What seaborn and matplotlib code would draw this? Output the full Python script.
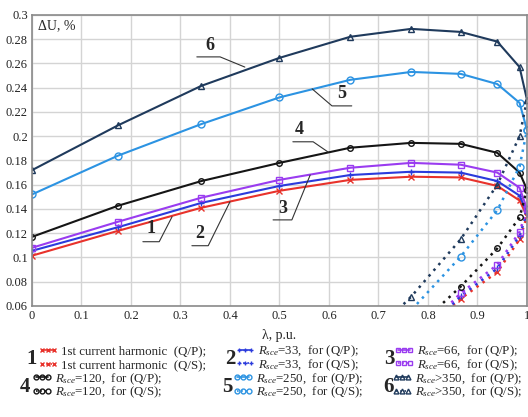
import numpy as np
import pandas as pd
import matplotlib
matplotlib.use("Agg")
import matplotlib.pyplot as plt
from matplotlib.lines import Line2D
import seaborn as sns

# lambda = cos(phi), phi = 90..0 deg
lam = [0.0, 0.174, 0.342, 0.5, 0.643, 0.766, 0.866, 0.94, 0.985, 1.0]
lam_qs = [0.643, 0.766, 0.866, 0.94, 0.985, 1.0]

# (Q/P) solid curves
du_qp_1 = [0.1015, 0.122, 0.141, 0.155, 0.164, 0.1666, 0.166, 0.159, 0.147, 0.134]
du_qp_2 = [0.1055, 0.125, 0.145, 0.159, 0.168, 0.1707, 0.170, 0.163, 0.151, 0.137]
du_qp_3 = [0.108, 0.1295, 0.1493, 0.164, 0.174, 0.178, 0.1765, 0.170, 0.1575, 0.140]
du_qp_4 = [0.117, 0.1427, 0.163, 0.178, 0.1905, 0.1945, 0.1937, 0.1863, 0.170, 0.156]
du_qp_5 = [0.152, 0.184, 0.210, 0.232, 0.2465, 0.253, 0.2514, 0.243, 0.2275, 0.205]
du_qp_6 = [0.172, 0.209, 0.2415, 0.2646, 0.282, 0.2885, 0.286, 0.278, 0.257, 0.23]

# (Q/S) dotted curves
du_qs_1 = [0.0, 0.026, 0.066, 0.088, 0.115, 0.134]
du_qs_2 = [0.0, 0.028, 0.068, 0.091, 0.118, 0.137]
du_qs_3 = [0.0, 0.030, 0.0705, 0.094, 0.121, 0.140]
du_qs_4 = [0.0, 0.038, 0.076, 0.1075, 0.133, 0.156]
du_qs_5 = [0.003, 0.0565, 0.1007, 0.139, 0.175, 0.205]
du_qs_6 = [0.018, 0.0677, 0.115, 0.16, 0.2, 0.23]

colors = ["#e8322b", "#2b3bdc", "#9a3cf0", "#151515", "#2c93e2", "#1f3a5c"]
markers = ["x", "+", "s", "o", "o", "^"]
qp = [du_qp_1, du_qp_2, du_qp_3, du_qp_4, du_qp_5, du_qp_6]
qs = [du_qs_1, du_qs_2, du_qs_3, du_qs_4, du_qs_5, du_qs_6]

legend_labels = [
    ("1st current harmonic  (Q/P);", "1st current harmonic  (Q/S);"),
    ("$R_{sce}$=33,  for (Q/P);", "$R_{sce}$=33,  for (Q/S);"),
    ("$R_{sce}$=66,  for (Q/P);", "$R_{sce}$=66,  for (Q/S);"),
    ("$R_{sce}$=120,  for (Q/P);", "$R_{sce}$=120,  for (Q/S);"),
    ("$R_{sce}$=250,  for (Q/P);", "$R_{sce}$=250,  for (Q/S);"),
    ("$R_{sce}$>350,  for (Q/P);", "$R_{sce}$>350,  for (Q/S);"),
]

sns.set_style("whitegrid")
plt.rcParams["font.family"] = ["Liberation Serif", "DejaVu Serif"]
plt.rcParams["mathtext.fontset"] = "custom"
plt.rcParams["mathtext.rm"] = "Liberation Serif"
plt.rcParams["mathtext.it"] = "Liberation Serif:italic"

fig = plt.figure(figsize=(5.28, 4.17), dpi=100)
ax = fig.add_axes([0.0606, 0.2662, 0.9375, 0.698])

for i in range(6):
    c, m = colors[i], markers[i]
    ms = 5 if m != "o" or i == 4 else 4
    sns.lineplot(x=lam, y=qp[i], ax=ax, color=c, marker=m, markersize=ms,
                 markerfacecolor="none", markeredgecolor=c, markeredgewidth=1.0,
                 linewidth=1.5, legend=False)
    sns.lineplot(x=lam_qs, y=qs[i], ax=ax, color=c, marker=m, markersize=ms,
                 markerfacecolor="none", markeredgecolor=c, markeredgewidth=1.0,
                 linewidth=1.8, linestyle=(0, (1, 2)), legend=False)

ax.set_xlim(0, 1)
ax.set_ylim(0.06, 0.3)
ax.set_xticks(np.arange(0, 1.01, 0.1))
ax.set_yticks(np.arange(0.06, 0.301, 0.02))
ax.set_xticklabels(["%g" % round(v, 2) for v in np.arange(0, 1.01, 0.1)])
ax.set_yticklabels(["%g" % round(v, 2) for v in np.arange(0.06, 0.301, 0.02)])
ax.tick_params(labelsize=9, length=0, pad=3, colors="#222222")
ax.grid(True, color="#d4d4d4", linewidth=1.0)
for s in ax.spines.values():
    s.set_color("#8a8a8a")
    s.set_linewidth(1.2)
ax.set_xlabel("")
ax.set_ylabel("")

ax.text(0.012, 0.985, "ΔU, %", transform=ax.transAxes, ha="left", va="top", fontsize=10)
fig.text(262 / 528, 1 - 335 / 417, "λ, p.u.", ha="left", va="center", fontsize=10)

# curve labels: text pos, underline, leader end
curve_tags = [
    ("1", (0.241, 0.1165), (0.224, 0.257, 0.113), (0.283, 0.1336)),
    ("2", (0.339, 0.1125), (0.323, 0.356, 0.1097), (0.40, 0.146)),
    ("3", (0.506, 0.1335), (0.487, 0.525, 0.131), (0.562, 0.168)),
    ("4", (0.540, 0.1985), (0.527, 0.568, 0.1954), (0.598, 0.187)),
    ("5", (0.626, 0.228), (0.606, 0.646, 0.225), (0.566, 0.239)),
    ("6", (0.360, 0.268), (0.333, 0.380, 0.2654), (0.43, 0.257)),
]
for tag, tp, ul, end in curve_tags:
    ax.text(tp[0], tp[1], tag, ha="center", va="bottom", fontsize=13, fontweight="bold")
    x0, x1, yu = ul
    if end[0] > x1:
        ax.plot([x0, x1, end[0]], [yu, yu, end[1]], color="#333333", lw=0.8)
    else:
        ax.plot([x1, x0, end[0]], [yu, yu, end[1]], color="#333333", lw=0.8)

# legend groups: one single-entry legend per row
group_x = [38, 235, 394, 32, 233, 392]
group_rows = [(351.5, 365), (351.5, 365), (351.5, 365),
              (379, 392.5), (379, 392.5), (379, 392.5)]
num_pos = [(32, 359), (230, 359), (389, 359), (25, 387), (227, 387), (389, 387)]
for i in range(6):
    c, m = colors[i], markers[i]
    styles = ["-", (0, (1, 1.5))]
    for k in range(2):
        h = Line2D([], [], color=c, marker=m, markersize=3.5, markerfacecolor="none",
                   markeredgecolor=c, lw=1.2, linestyle=styles[k])
        fig.legend([h], [legend_labels[i][k]], loc="center left",
                   bbox_to_anchor=(group_x[i] / 528, 1 - group_rows[i][k] / 417),
                   frameon=False, numpoints=3, handlelength=1.5, handletextpad=0.25,
                   fontsize=9.3, borderpad=0, borderaxespad=0)
    nx, ny = num_pos[i]
    fig.text(nx / 528, 1 - ny / 417, str(i + 1), ha="center", va="center",
             fontsize=15, fontweight="bold")

fig.savefig("out.png", dpi=100)
